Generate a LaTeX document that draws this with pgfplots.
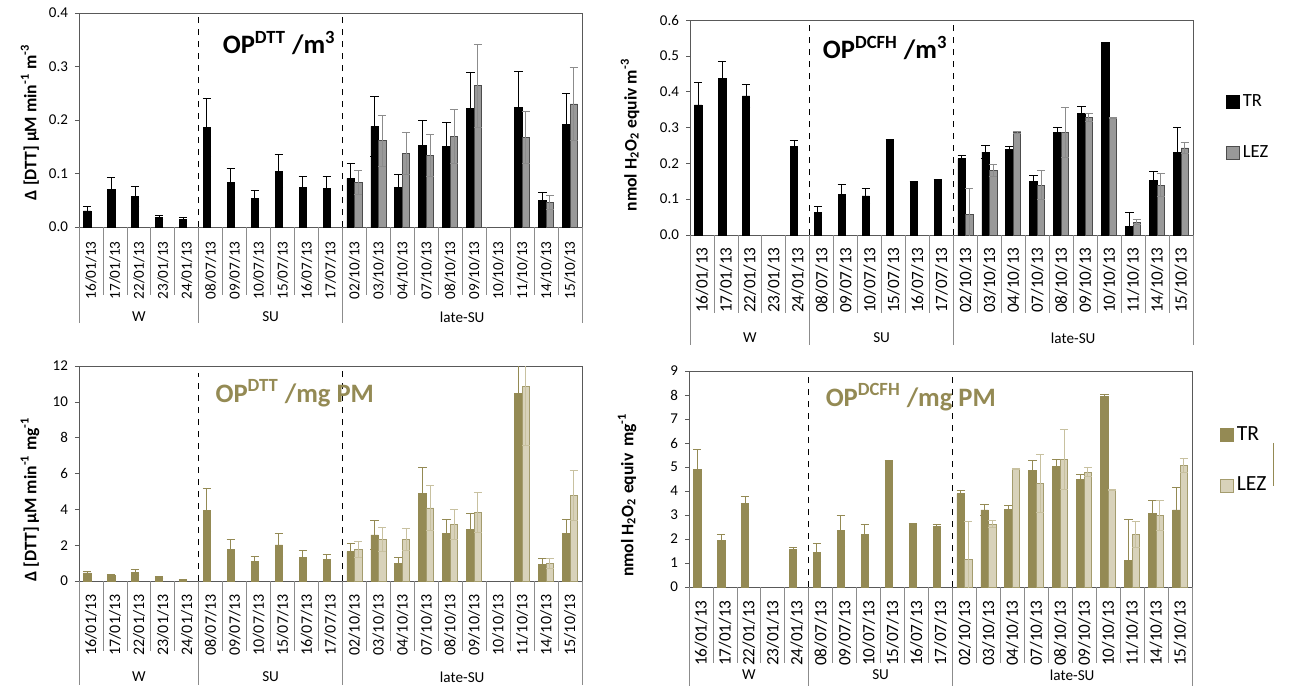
\documentclass[border=0pt]{standalone}
\usepackage{fontspec}
\setmainfont{Carlito}
\usepackage{pgfplots}
\usepackage{pgfplotstable}
\pgfplotsset{compat=1.18}
\definecolor{olv}{HTML}{948A54}
\definecolor{lez}{HTML}{D8D2BA}
\definecolor{lezerr}{HTML}{C8C1A0}
\definecolor{sepc}{HTML}{8C8C8C}
\newcommand\tickf{\fontsize{7.5pt}{8pt}\selectfont}
\newcommand\datef{\fontsize{7.6pt}{8pt}\selectfont}
\newcommand\labf{\fontsize{8.8pt}{9pt}\selectfont\bfseries}
\newcommand\titf{\fontsize{13.3pt}{15pt}\selectfont\bfseries}

% columns: x, TR value, TR error, LEZ value, LEZ error
\pgfplotstableread{
x tr tre lz lze
0 0.030 0.0075 nan nan
1 0.070 0.0225 nan nan
2 0.0575 0.019 nan nan
3 0.0175 0.0035 nan nan
4 0.014 0.003 nan nan
5 0.186 0.054 nan nan
6 0.0825 0.0265 nan nan
7 0.054 0.015 nan nan
8 0.104 0.031 nan nan
9 0.074 0.021 nan nan
10 0.0725 0.0225 nan nan
11 0.091 0.027 0.0825 0.0225
12 0.188 0.056 0.161 0.047
13 0.074 0.0235 0.1375 0.0395
14 0.1525 0.0465 0.133 0.0395
15 0.151 0.045 0.169 0.051
16 0.222 0.067 0.264 0.078
17 nan nan nan nan
18 0.224 0.067 0.167 0.048
19 0.049 0.015 0.046 0.013
20 0.1925 0.0565 0.230 0.0675
}\dttm
\pgfplotstableread{
x tr tre lz lze
0 0.363 0.062 nan nan
1 0.437 0.047 nan nan
2 0.388 0.031 nan nan
3 nan nan nan nan
4 0.2465 0.0175 nan nan
5 0.064 0.015 nan nan
6 0.112 0.028 nan nan
7 0.109 0.020 nan nan
8 0.264 0.002 nan nan
9 0.148 0.002 nan nan
10 0.152 0.004 nan nan
11 0.213 0.010 0.058 0.072
12 0.231 0.018 0.180 0.017
13 0.240 0.006 0.2865 0.0035
14 0.150 0.016 0.1395 0.0405
15 0.285 0.015 0.2865 0.0695
16 0.340 0.019 0.328 0.012
17 0.534 0.002 0.326 0.002
18 0.023 0.039 0.035 0.007
19 0.153 0.025 0.1395 0.0325
20 0.231 0.069 0.243 0.016
}\dcfhm
\pgfplotstableread{
x tr tre lz lze
0 0.447 0.11 nan nan
1 0.335 0.035 nan nan
2 0.48 0.19 nan nan
3 0.20 0.06 nan nan
4 0.056 0.014 nan nan
5 3.95 1.19 nan nan
6 1.75 0.54 nan nan
7 1.08 0.26 nan nan
8 2.01 0.64 nan nan
9 1.32 0.36 nan nan
10 1.21 0.28 nan nan
11 1.64 0.48 1.75 0.44
12 2.57 0.80 2.31 0.67
13 0.99 0.31 2.31 0.62
14 4.88 1.46 4.08 1.25
15 2.65 0.80 3.15 0.85
16 2.89 0.87 3.82 1.12
17 nan nan nan nan
18 10.49 3.2 10.86 3.3
19 0.93 0.32 0.97 0.28
20 2.65 0.80 4.77 1.40
}\dttpm
\pgfplotstableread{
x tr tre lz lze
0 4.90 0.83 nan nan
1 1.95 0.24 nan nan
2 3.50 0.28 nan nan
3 nan nan nan nan
4 1.55 0.11 nan nan
5 1.45 0.38 nan nan
6 2.34 0.65 nan nan
7 2.20 0.42 nan nan
8 5.25 0.03 nan nan
9 2.64 0.02 nan nan
10 2.52 0.10 nan nan
11 3.88 0.16 1.16 1.58
12 3.21 0.22 2.62 0.15
13 3.25 0.16 4.92 0.02
14 4.85 0.43 4.33 1.21
15 5.04 0.28 5.32 1.24
16 4.49 0.20 4.79 0.18
17 7.94 0.08 4.04 0.02
18 1.11 1.72 2.19 0.54
19 3.07 0.54 2.98 0.63
20 3.21 0.95 5.07 0.28
}\dcfhpm

\pgfplotsset{
  panel/.style={
    scale only axis,
    width=251.5pt,
    xmin=-0.5, xmax=20.5, ymin=0,
    xtick={0,...,20},
    xticklabels={16/01/13,17/01/13,22/01/13,23/01/13,24/01/13,08/07/13,09/07/13,10/07/13,15/07/13,16/07/13,17/07/13,02/10/13,03/10/13,04/10/13,07/10/13,08/10/13,09/10/13,10/10/13,11/10/13,14/10/13,15/10/13},
    xticklabel style={rotate=90, anchor=east, inner sep=0pt, font=\datef},
    x tick style={draw=none},
    major tick length=2pt,
    ytick align=outside, ytick pos=left,
    ybar=0pt, bar width=3.75pt,
    axis line style={black!65},
    y tick style={black!65},
    clip mode=individual,
    /pgf/number format/assume math mode=true,
    yticklabel style={font=\tickf},
    ylabel style={font=\labf, anchor=center},
  },
  errb/.style={error bars/.cd, y dir=both, y explicit,
    error bar style={line width=0.5pt, #1},
    error mark options={rotate=90, #1, line width=0.5pt, mark size=2.1pt}},
}

\newcommand{\cataxis}[3]{%
  \pgfplotsinvokeforeach{0.5,1.5,2.5,3.5,5.5,6.5,7.5,8.5,9.5,11.5,12.5,13.5,14.5,15.5,16.5,17.5,18.5,19.5}{\draw[sepc, line width=0.4pt] (axis cs:##1,0) -- ++(0pt,-#1);}
  \pgfplotsinvokeforeach{-0.5,4.5,10.5,20.5}{\draw[sepc, line width=0.4pt] (axis cs:##1,0) -- ++(0pt,-#3);}
  \node[font=\datef, yshift=-#2] at (axis cs:2,0) {W};
  \node[font=\datef, yshift=-#2] at (axis cs:7.5,0) {SU};
  \node[font=\datef, yshift=-#2] at (axis cs:15.5,0) {late-SU};
}

\begin{document}
\begin{tikzpicture}
\path[use as bounding box] (0,0) rectangle (646pt,-345.5pt);

% ---------- Panel A ----------
\begin{axis}[panel, at={(39.5pt,-113.5pt)}, anchor=south west, height=107pt,
  ymax=0.4, ytick={0,0.1,0.2,0.3,0.4},
  yticklabel style={/pgf/number format/.cd, fixed, fixed zerofill, precision=1},
  xticklabel shift=5pt,
  ylabel={Δ [DTT] µM min\textsuperscript{-1} m\textsuperscript{-3}},
  ylabel style={at={(rel axis cs:-0.0974,0.49)}}]
\addplot[fill=black, draw=black, errb={black}] table[x=x, y=tr, y error=tre] {\dttm};
\addplot[fill=black!40, draw=black!70, errb={black!45}] table[x=x, y=lz, y error=lze] {\dttm};
\draw[dashed, black, line width=0.5pt] (axis cs:4.5,0) -- (axis cs:4.5,0.4);
\draw[dashed, black, line width=0.5pt] (axis cs:10.5,0) -- (axis cs:10.5,0.4);
\node[font=\titf] at (rel axis cs:0.398,0.86) {OP\textsuperscript{DTT} /m\textsuperscript{3}};
\cataxis{34pt}{45pt}{48pt}
\end{axis}

% ---------- Panel B ----------
\begin{axis}[panel, at={(345pt,-117.5pt)}, anchor=south west, height=107.5pt,
  ymax=0.6, ytick={0,0.1,0.2,0.3,0.4,0.5,0.6},
  yticklabel style={/pgf/number format/.cd, fixed, fixed zerofill, precision=1},
  xticklabel style={font=\fontsize{8.6pt}{9pt}\selectfont},
  xticklabel shift=4pt,
  ylabel={nmol H\textsubscript{2}O\textsubscript{2} equiv m\textsuperscript{-3}},
  ylabel style={at={(rel axis cs:-0.119,0.465)}},
  legend image code/.code={\draw[#1] (0pt,-3.25pt) rectangle (6.5pt,3.25pt);},
  legend style={at={(1.065,0.67)}, anchor=north west, draw=none, fill=none,
    inner sep=0pt, row sep=15pt, font=\fontsize{9.3pt}{10pt}\selectfont,
    nodes={inner sep=1.5pt}},
  legend cell align=left]
\addplot[fill=black, draw=black, errb={black}] table[x=x, y=tr, y error=tre] {\dcfhm};
\addlegendentry{TR}
\addplot[fill=black!40, draw=black!70, errb={black!45}] table[x=x, y=lz, y error=lze] {\dcfhm};
\addlegendentry{LEZ}
\draw[dashed, black, line width=0.5pt] (axis cs:4.5,0) -- (axis cs:4.5,0.6);
\draw[dashed, black, line width=0.5pt] (axis cs:10.5,0) -- (axis cs:10.5,0.6);
\node[font=\titf] at (rel axis cs:0.388,0.87) {OP\textsuperscript{DCFH} /m\textsuperscript{3}};
\cataxis{39pt}{51.5pt}{55pt}
\end{axis}

% ---------- Panel C ----------
\begin{axis}[panel, at={(39.5pt,-290.5pt)}, anchor=south west, height=107.5pt,
  ymax=12, ytick={0,2,4,6,8,10,12},
  xticklabel style={font=\fontsize{8pt}{9pt}\selectfont},
  xticklabel shift=4.5pt,
  ylabel={Δ [DTT] µM min\textsuperscript{-1} mg\textsuperscript{-1}},
  ylabel style={at={(rel axis cs:-0.0974,0.38)}}]
\addplot[fill=olv, draw=olv, errb={olv}] table[x=x, y=tr, y error=tre] {\dttpm};
\addplot[fill=lez, draw=olv!85, errb={lezerr}] table[x=x, y=lz, y error=lze] {\dttpm};
\draw[dashed, black, line width=0.5pt] (axis cs:4.5,0) -- (axis cs:4.5,11.6);
\draw[dashed, black, line width=0.5pt] (axis cs:10.5,0) -- (axis cs:10.5,12);
\node[font=\titf, text=olv] at (rel axis cs:0.429,0.874) {OP\textsuperscript{DTT} /mg PM};
\cataxis{35pt}{48pt}{52pt}
\end{axis}

% ---------- Panel D ----------
\begin{axis}[panel, at={(344.5pt,-293.5pt)}, anchor=south west, height=108pt,
  ymax=9, ytick={0,1,...,9},
  xticklabel style={font=\fontsize{8.6pt}{9pt}\selectfont},
  xticklabel shift=4.5pt,
  ylabel={nmol H\textsubscript{2}O\textsubscript{2} equiv\, mg\textsuperscript{-1}},
  ylabel style={at={(rel axis cs:-0.123,0.426)}},
  legend image code/.code={\draw[#1] (0pt,-3.25pt) rectangle (6.5pt,3.25pt);},
  legend style={at={(1.055,0.76)}, anchor=north west, draw=none, fill=none,
    inner sep=0pt, row sep=14pt, font=\fontsize{10.8pt}{12pt}\selectfont,
    nodes={inner sep=1.5pt}},
  legend cell align=left]
\addplot[fill=olv, draw=olv, errb={olv}] table[x=x, y=tr, y error=tre] {\dcfhpm};
\addlegendentry{TR}
\addplot[fill=lez, draw=olv!85, errb={lezerr}] table[x=x, y=lz, y error=lze] {\dcfhpm};
\addlegendentry{LEZ}
\draw[dashed, black, line width=0.5pt] (axis cs:4.5,0) -- (axis cs:4.5,9);
\draw[dashed, black, line width=0.5pt] (axis cs:10.5,0) -- (axis cs:10.5,9);
\node[font=\titf, text=olv] at (rel axis cs:0.441,0.88) {OP\textsuperscript{DCFH} /mg PM};
\draw[olv, line width=0.5pt] (rel axis cs:1.163,0.667) -- (rel axis cs:1.163,0.468);
\cataxis{38pt}{44pt}{49.5pt}
\end{axis}
\end{tikzpicture}
\end{document}
